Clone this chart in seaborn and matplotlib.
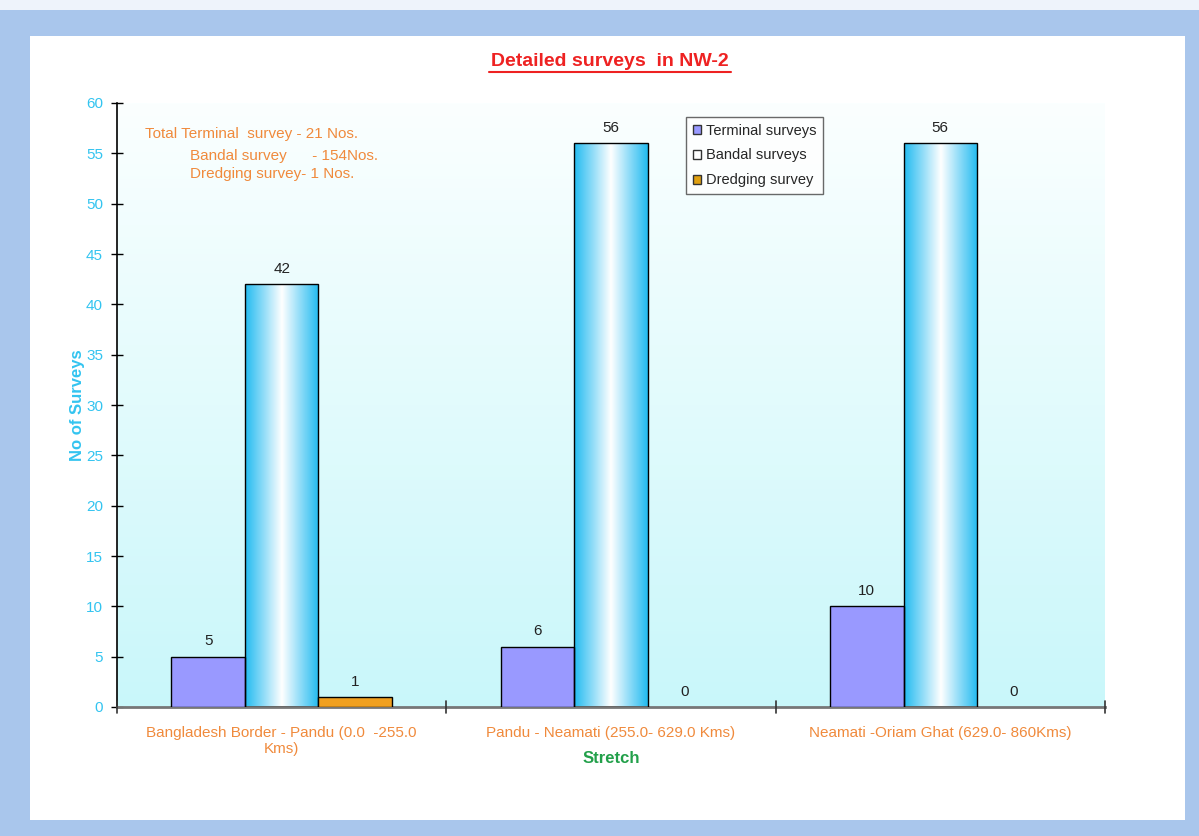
import numpy as np
import pandas as pd
import matplotlib
matplotlib.use("Agg")
import matplotlib.pyplot as plt
import seaborn as sns
from matplotlib.patches import Rectangle, Patch
from matplotlib.colors import LinearSegmentedColormap

categories = ["Bangladesh Border - Pandu (0.0  -255.0\nKms)",
              "Pandu - Neamati (255.0- 629.0 Kms)",
              "Neamati -Oriam Ghat (629.0- 860Kms)"]
series = ["Terminal surveys", "Bandal surveys", "Dredging survey"]
terminal = [5, 6, 10]
bandal = [42, 56, 56]
dredging = [1, 0, 0]
yticks = list(range(0, 61, 5))

df = pd.DataFrame({
    "Stretch": categories * 3,
    "Series": [series[0]] * 3 + [series[1]] * 3 + [series[2]] * 3,
    "Value": terminal + bandal + dredging,
})

sns.set_theme(style="white")
plt.rcParams["font.family"] = ["Liberation Sans", "DejaVu Sans"]

fig = plt.figure(figsize=(11.99, 8.36), dpi=100)
fig.patch.set_facecolor("#a9c6ec")
fig.patches.append(Rectangle((30 / 1199, 16 / 836), 1155 / 1199, (820 - 36) / 836,
                             transform=fig.transFigure, facecolor="white",
                             edgecolor="none", zorder=-5))
fig.patches.append(Rectangle((0, 826 / 836), 1, 10 / 836, transform=fig.transFigure,
                             facecolor="#eef3fb", edgecolor="none", zorder=-5))

ax = fig.add_axes([117 / 1199, 1 - 707 / 836, (1105 - 117) / 1199, (707 - 103) / 836])
ax.set_facecolor("none")

palette = {series[0]: "#9999ff", series[1]: "#ffffff", series[2]: "#f0a020"}
sns.barplot(data=df, x="Stretch", y="Value", hue="Series", palette=palette,
            width=0.67, saturation=1, edgecolor="black", linewidth=1.0,
            ax=ax, legend=False, zorder=3)

ax.set_xlim(-0.5, 2.5)
ax.set_ylim(0, 60)

# background gradient of plot area
bg_cmap = LinearSegmentedColormap.from_list("bg", ["#c9f7fa", "#fbffff"])
grad = np.linspace(0, 1, 256).reshape(-1, 1)
ax.imshow(grad, extent=[-0.5, 2.5, 0, 60], origin="lower", cmap=bg_cmap,
          aspect="auto", zorder=0)

# gradient fill for bandal bars
bar_cmap = LinearSegmentedColormap.from_list(
    "bar", ["#22bbf0", "#8fdcf8", "#ffffff", "#8fdcf8", "#22bbf0"])
hgrad = np.linspace(0, 1, 256).reshape(1, -1)
containers = ax.containers
for rect in containers[1]:
    x0, w, h = rect.get_x(), rect.get_width(), rect.get_height()
    im = ax.imshow(hgrad, extent=[x0, x0 + w, 0, h], cmap=bar_cmap,
                   aspect="auto", zorder=2.5)
    im.set_clip_path(rect)
    rect.set_facecolor("none")

# dredging bars with zero height: hide edges
for rect in containers[2]:
    if rect.get_height() == 0:
        rect.set_edgecolor("none")

for cont in containers:
    ax.bar_label(cont, padding=6, fontsize=11, color="#222222", fmt="%d")

ax.set_xticks([0, 1, 2])
ax.set_xticklabels(categories, color="#f08a3c", fontsize=11, linespacing=1.1)
ax.tick_params(axis="x", length=0, pad=14)
for xb in [-0.5, 0.5, 1.5, 2.5]:
    ax.plot([xb, xb], [-0.6, 0.6], color="#333333", lw=1.2, clip_on=False, zorder=5)

ax.set_yticks(yticks)
ax.set_yticklabels([str(v) for v in yticks], color="#33c4f0", fontsize=11)
ax.tick_params(axis="y", direction="inout", length=8, width=1.0, color="black",
               left=True, pad=6)

for s in ["top", "right"]:
    ax.spines[s].set_visible(False)
ax.spines["left"].set_color("black")
ax.spines["left"].set_linewidth(1.2)
ax.spines["bottom"].set_color("#777777")
ax.spines["bottom"].set_linewidth(2)

ax.set_xlabel("Stretch", color="#22a04a", fontsize=12, fontweight="bold", labelpad=-3)
ax.set_ylabel("No of Surveys", color="#33c4f0", fontsize=12, fontweight="bold", labelpad=1)

fig.text(610 / 1199, 1 - 61 / 836, "Detailed surveys  in NW-2", color="#ee2222",
         fontsize=14, fontweight="bold", ha="center", va="center")
fig.add_artist(plt.Line2D([489 / 1199, 731 / 1199], [1 - 72 / 836, 1 - 72 / 836],
                          color="#ee2222", lw=1.5))

ann_color = "#f08a3c"
fig.text(145 / 1199, 1 - 134 / 836, "Total Terminal  survey - 21 Nos.", color=ann_color,
         fontsize=11, va="center")
fig.text(190 / 1199, 1 - 156 / 836, "Bandal survey      - 154Nos.", color=ann_color,
         fontsize=11, va="center")
fig.text(190 / 1199, 1 - 174 / 836, "Dredging survey- 1 Nos.", color=ann_color,
         fontsize=11, va="center")

handles = [Patch(facecolor="#9999ff", edgecolor="#333333"),
           Patch(facecolor="#ffffff", edgecolor="#333333"),
           Patch(facecolor="#e0a010", edgecolor="#333333")]
leg = ax.legend(handles, series, loc="upper left",
                bbox_to_anchor=((686 - 117) / (1105 - 117), 1 - (117 - 103) / (707 - 103)),
                fontsize=10.5, frameon=True, fancybox=False, handlelength=0.6,
                handleheight=0.6, handletextpad=0.3, borderpad=0.45, labelspacing=0.75,
                borderaxespad=0, edgecolor="#444444")
leg.get_frame().set_linewidth(1.0)
leg.set_zorder(10)

fig.savefig("out.png", dpi=100)
